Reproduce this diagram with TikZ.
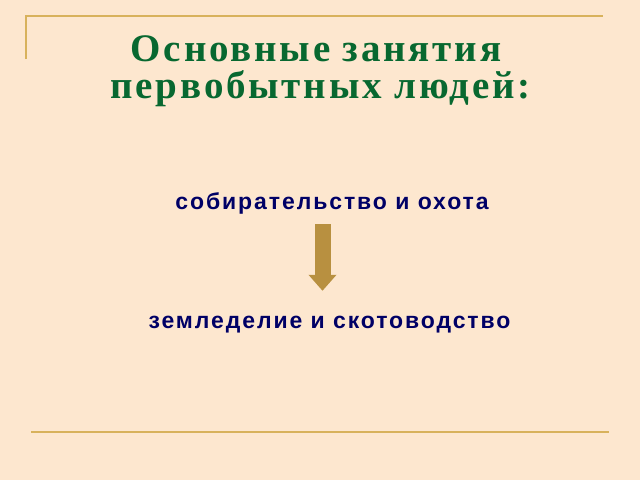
\documentclass[tikz,border=0pt]{standalone}
\usepackage{fontspec}
\setmainfont{Liberation Serif}
\newfontfamily\titlefont[LetterSpace=7.2]{Liberation Serif}
\newfontfamily\bodyfont[LetterSpace=8.3]{Liberation Sans}
\usetikzlibrary{arrows.meta}
\definecolor{peach}{RGB}{253,231,207}
\definecolor{gold}{RGB}{216,178,92}
\definecolor{titlegreen}{RGB}{8,104,48}
\definecolor{navy}{RGB}{0,0,102}
\definecolor{arrowbrown}{RGB}{184,144,64}
\begin{document}
\begin{tikzpicture}[x=1pt,y=-1pt]
        \tikzstyle{title}=[anchor=base,inner sep=0pt,text=titlegreen,font=\titlefont\fontsize{39}{44}\selectfont\bfseries]
        \tikzstyle{activity}=[anchor=base,inner sep=0pt,text height=16pt,text depth=5pt,text=navy,font=\bodyfont\fontsize{23}{27}\selectfont\bfseries]
        \tikzstyle{rule}=[draw=gold,line width=2pt]
        \tikzstyle{change}=[draw=arrowbrown,line width=16pt,shorten <=10pt,shorten >=21pt,-{Triangle[width=27pt,length=16pt]}]
       \fill[peach] (0,0) rectangle (640,480);
       \useasboundingbox (0,0) rectangle (640,480);
       \begin{scope}
         \path[rule] (26,59) -- (26,16) -- (603,16);
         \path[rule] (31,432) -- (609,432);
         \node [title] (t1) at (316,61) {Основные занятия};
         \node [title] (t2) at (320.5,98.5) {первобытных людей:};
         \node [activity] (gather) at (332,209) {собирательство и охота};
         \node [activity] (farm) at (329.5,328) {земледелие и скотоводство};
         \path[change] ([xshift=-9.5pt]gather.south) -- ([xshift=-7pt]farm.north);
        \end{scope}
      \end{tikzpicture}
\end{document}
